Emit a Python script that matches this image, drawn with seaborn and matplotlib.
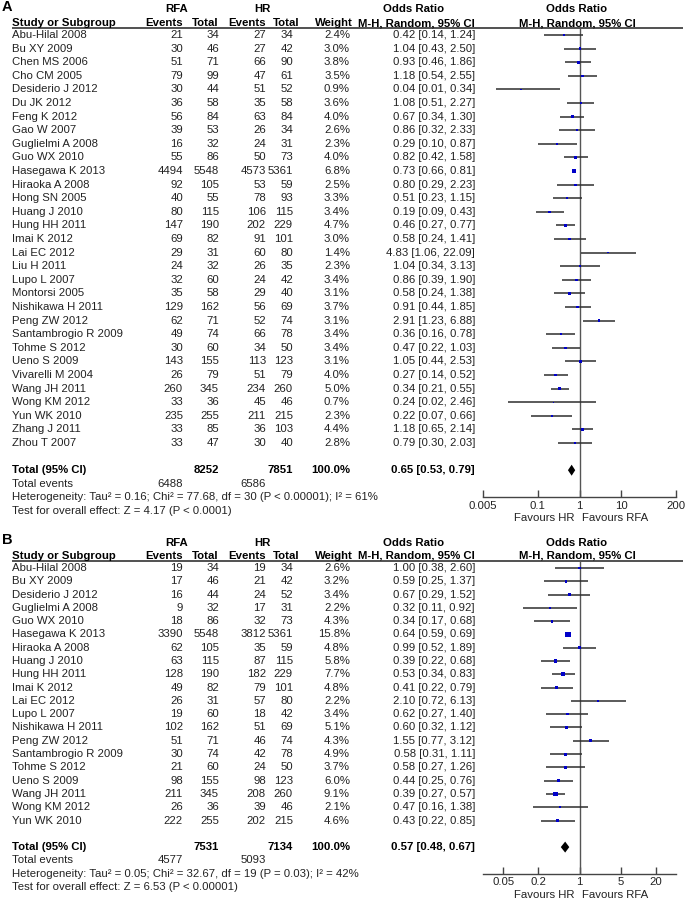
import numpy as np
import pandas as pd
import matplotlib
matplotlib.use('Agg')
import matplotlib.pyplot as plt
import seaborn as sns
from matplotlib.ticker import NullLocator

# ---- panel A: local recurrence / all studies ----
names_a = ["Abu-Hilal 2008", "Bu XY 2009", "Chen MS 2006", "Cho CM 2005", "Desiderio J 2012",
           "Du JK 2012", "Feng K 2012", "Gao W 2007", "Guglielmi A 2008", "Guo WX 2010",
           "Hasegawa K 2013", "Hiraoka A 2008", "Hong SN 2005", "Huang J 2010", "Hung HH 2011",
           "Imai K 2012", "Lai EC 2012", "Liu H 2011", "Lupo L 2007", "Montorsi 2005",
           "Nishikawa H 2011", "Peng ZW 2012", "Santambrogio R 2009", "Tohme S 2012", "Ueno S 2009",
           "Vivarelli M 2004", "Wang JH 2011", "Wong KM 2012", "Yun WK 2010", "Zhang J 2011",
           "Zhou T 2007"]
rfa_ev_a = [21, 30, 51, 79, 30, 36, 56, 39, 16, 55, 4494, 92, 40, 80, 147, 69, 29, 24, 32, 35,
            129, 62, 49, 30, 143, 26, 260, 33, 235, 33, 33]
rfa_tot_a = [34, 46, 71, 99, 44, 58, 84, 53, 32, 86, 5548, 105, 55, 115, 190, 82, 31, 32, 60, 58,
             162, 71, 74, 60, 155, 79, 345, 36, 255, 85, 47]
hr_ev_a = [27, 27, 66, 47, 51, 35, 63, 26, 24, 50, 4573, 53, 78, 106, 202, 91, 60, 26, 24, 29,
           56, 52, 66, 34, 113, 51, 234, 45, 211, 36, 30]
hr_tot_a = [34, 42, 90, 61, 52, 58, 84, 34, 31, 73, 5361, 59, 93, 115, 229, 101, 80, 35, 42, 40,
            69, 74, 78, 50, 123, 79, 260, 46, 215, 103, 40]
weight_a = [2.4, 3.0, 3.8, 3.5, 0.9, 3.6, 4.0, 2.6, 2.3, 4.0, 6.8, 2.5, 3.3, 3.4, 4.7, 3.0, 1.4,
            2.3, 3.4, 3.1, 3.7, 3.1, 3.4, 3.4, 3.1, 4.0, 5.0, 0.7, 2.3, 4.4, 2.8]
or_a = [0.42, 1.04, 0.93, 1.18, 0.04, 1.08, 0.67, 0.86, 0.29, 0.82, 0.73, 0.80, 0.51, 0.19, 0.46,
        0.58, 4.83, 1.04, 0.86, 0.58, 0.91, 2.91, 0.36, 0.47, 1.05, 0.27, 0.34, 0.24, 0.22, 1.18, 0.79]
lo_a = [0.14, 0.43, 0.46, 0.54, 0.01, 0.51, 0.34, 0.32, 0.10, 0.42, 0.66, 0.29, 0.23, 0.09, 0.27,
        0.24, 1.06, 0.34, 0.39, 0.24, 0.44, 1.23, 0.16, 0.22, 0.44, 0.14, 0.21, 0.02, 0.07, 0.65, 0.30]
hi_a = [1.24, 2.50, 1.86, 2.55, 0.34, 2.27, 1.30, 2.33, 0.87, 1.58, 0.81, 2.23, 1.15, 0.43, 0.77,
        1.41, 22.09, 3.13, 1.90, 1.38, 1.85, 6.88, 0.78, 1.03, 2.53, 0.52, 0.55, 2.46, 0.66, 2.14, 2.03]
total_a = {'rfa_tot': 8252, 'hr_tot': 7851, 'rfa_ev': 6488, 'hr_ev': 6586,
           'or': 0.65, 'lo': 0.53, 'hi': 0.79}
het_a = "Heterogeneity: Tau\u00b2 = 0.16; Chi\u00b2 = 77.68, df = 30 (P < 0.00001); I\u00b2 = 61%"
test_a = "Test for overall effect: Z = 4.17 (P < 0.0001)"
ticks_a = [0.005, 0.1, 1, 10, 200]
tick_labels_a = ['0.005', '0.1', '1', '10', '200']

# ---- panel B ----
names_b = ["Abu-Hilal 2008", "Bu XY 2009", "Desiderio J 2012", "Guglielmi A 2008", "Guo WX 2010",
           "Hasegawa K 2013", "Hiraoka A 2008", "Huang J 2010", "Hung HH 2011", "Imai K 2012",
           "Lai EC 2012", "Lupo L 2007", "Nishikawa H 2011", "Peng ZW 2012", "Santambrogio R 2009",
           "Tohme S 2012", "Ueno S 2009", "Wang JH 2011", "Wong KM 2012", "Yun WK 2010"]
rfa_ev_b = [19, 17, 16, 9, 18, 3390, 62, 63, 128, 49, 26, 19, 102, 51, 30, 21, 98, 211, 26, 222]
rfa_tot_b = [34, 46, 44, 32, 86, 5548, 105, 115, 190, 82, 31, 60, 162, 71, 74, 60, 155, 345, 36, 255]
hr_ev_b = [19, 21, 24, 17, 32, 3812, 35, 87, 182, 79, 57, 18, 51, 46, 42, 24, 98, 208, 39, 202]
hr_tot_b = [34, 42, 52, 31, 73, 5361, 59, 115, 229, 101, 80, 42, 69, 74, 78, 50, 123, 260, 46, 215]
weight_b = [2.6, 3.2, 3.4, 2.2, 4.3, 15.8, 4.8, 5.8, 7.7, 4.8, 2.2, 3.4, 5.1, 4.3, 4.9, 3.7, 6.0,
            9.1, 2.1, 4.6]
or_b = [1.00, 0.59, 0.67, 0.32, 0.34, 0.64, 0.99, 0.39, 0.53, 0.41, 2.10, 0.62, 0.60, 1.55, 0.58,
        0.58, 0.44, 0.39, 0.47, 0.43]
lo_b = [0.38, 0.25, 0.29, 0.11, 0.17, 0.59, 0.52, 0.22, 0.34, 0.22, 0.72, 0.27, 0.32, 0.77, 0.31,
        0.27, 0.25, 0.27, 0.16, 0.22]
hi_b = [2.60, 1.37, 1.52, 0.92, 0.68, 0.69, 1.89, 0.68, 0.83, 0.79, 6.13, 1.40, 1.12, 3.12, 1.11,
        1.26, 0.76, 0.57, 1.38, 0.85]
total_b = {'rfa_tot': 7531, 'hr_tot': 7134, 'rfa_ev': 4577, 'hr_ev': 5093,
           'or': 0.57, 'lo': 0.48, 'hi': 0.67}
het_b = "Heterogeneity: Tau\u00b2 = 0.05; Chi\u00b2 = 32.67, df = 19 (P = 0.03); I\u00b2 = 42%"
test_b = "Test for overall effect: Z = 6.53 (P < 0.00001)"
ticks_b = [0.05, 0.2, 1, 5, 20]
tick_labels_b = ['0.05', '0.2', '1', '5', '20']

sns.set_style('white')
plt.rcParams['font.family'] = ['Liberation Sans', 'DejaVu Sans']

W, H = 685, 901
FS = 8.2
TXT = '#222222'
LINE = '#2e2e2e'


def txt(ax, x, y, s, ha='left', bold=False, size=FS, va='center'):
    ax.text(x, y, s, ha=ha, va=va, fontsize=size, color='black' if bold else TXT,
            fontweight='bold' if bold else 'normal')


def draw_panel(fig, bg, label, row0, dy, names, rfa_ev, rfa_tot, hr_ev, hr_tot, weight,
               odds, lo, hi, total, het, test, ticks, tick_labels, xlim):
    n = len(names)
    ys = row0 + dy * np.arange(n)
    h1, h2, rule = row0 - 25.5, row0 - 12, row0 - 7
    y_tot = row0 + dy * (n + 1)
    y_ev, y_het, y_test = y_tot + dy, y_tot + 2 * dy, y_tot + 3 * dy

    # headers
    txt(bg, 2, h1 + 1.5, label, bold=True, size=10.5, va='baseline')
    txt(bg, 177, h1, 'RFA', ha='center', bold=True)
    txt(bg, 262, h1, 'HR', ha='center', bold=True)
    txt(bg, 414, h1, 'Odds Ratio', ha='center', bold=True)
    txt(bg, 577, h1, 'Odds Ratio', ha='center', bold=True)
    txt(bg, 12, h2, 'Study or Subgroup', bold=True)
    txt(bg, 183, h2, 'Events', ha='right', bold=True)
    txt(bg, 219, h2, 'Total', ha='right', bold=True)
    txt(bg, 266, h2, 'Events', ha='right', bold=True)
    txt(bg, 300, h2, 'Total', ha='right', bold=True)
    txt(bg, 353, h2, 'Weight', ha='right', bold=True)
    txt(bg, 475, h2, 'M-H, Random, 95% CI', ha='right', bold=True)
    txt(bg, 577, h2, 'M-H, Random, 95% CI', ha='center', bold=True)
    bg.hlines(rule, 12, 683, color='#333333', lw=1.2)

    # study rows
    for i in range(n):
        y = ys[i]
        txt(bg, 12, y, names[i])
        txt(bg, 183, y, str(rfa_ev[i]), ha='right')
        txt(bg, 219, y, str(rfa_tot[i]), ha='right')
        txt(bg, 266, y, str(hr_ev[i]), ha='right')
        txt(bg, 293, y, str(hr_tot[i]), ha='right')
        txt(bg, 350, y, f"{weight[i]:.1f}%", ha='right')
        txt(bg, 475, y, f"{odds[i]:.2f} [{lo[i]:.2f}, {hi[i]:.2f}]", ha='right')

    # totals
    txt(bg, 12, y_tot, 'Total (95% CI)', bold=True)
    txt(bg, 219, y_tot, str(total['rfa_tot']), ha='right', bold=True)
    txt(bg, 293, y_tot, str(total['hr_tot']), ha='right', bold=True)
    txt(bg, 350, y_tot, '100.0%', ha='right', bold=True)
    txt(bg, 475, y_tot, f"{total['or']:.2f} [{total['lo']:.2f}, {total['hi']:.2f}]",
        ha='right', bold=True)
    txt(bg, 12, y_ev, 'Total events')
    txt(bg, 183, y_ev, str(total['rfa_ev']), ha='right')
    txt(bg, 266, y_ev, str(total['hr_ev']), ha='right')
    txt(bg, 12, y_het, het)
    txt(bg, 12, y_test, test)

    # forest axes, y in figure pixels
    ax = fig.add_axes([483 / W, 1 - y_het / H, (676 - 483) / W, (y_het - rule) / H])
    ax.set_facecolor('none')
    ax.set_xscale('log')
    ax.axvline(1, color='#555555', lw=1, zorder=1)
    ax.hlines(ys, lo, hi, color=LINE, lw=1.1, zorder=2)
    df = pd.DataFrame({'or': odds, 'y': ys, 'weight': weight})
    sns.scatterplot(data=df, x='or', y='y', size='weight', sizes=(0, 16), size_norm=(0, 16),
                    marker='s', color='#0000c8', linewidth=0, legend=False, zorder=3, ax=ax)
    d = 5.5
    ax.fill([total['lo'], total['or'], total['hi'], total['or']],
            [y_tot, y_tot - d, y_tot, y_tot + d], color='black', lw=0, zorder=3)
    ax.set_xlim(*xlim)
    ax.set_ylim(y_het, rule)
    ax.set_xlabel('')
    ax.set_ylabel('')
    ax.set_yticks([])
    ax.set_xticks(ticks)
    ax.set_xticklabels(tick_labels)
    ax.xaxis.set_minor_locator(NullLocator())
    ax.tick_params(axis='x', direction='in', length=5, width=1, color='#444444',
                   labelsize=FS, labelcolor=TXT, pad=2.5, bottom=True)
    for side in ['top', 'left', 'right']:
        ax.spines[side].set_visible(False)
    ax.spines['bottom'].set_color('#444444')
    ax.spines['bottom'].set_linewidth(1)
    ax.annotate('Favours HR', xy=(1, y_het + 21), xytext=(-5, 0), textcoords='offset pixels',
                ha='right', va='center', fontsize=FS, color=TXT, annotation_clip=False)
    ax.annotate('Favours RFA', xy=(1, y_het + 21), xytext=(2, 0), textcoords='offset pixels',
                ha='left', va='center', fontsize=FS, color=TXT, annotation_clip=False)


fig = plt.figure(figsize=(W / 100, H / 100), dpi=100)
bg = fig.add_axes([0, 0, 1, 1])
bg.set_xlim(0, W)
bg.set_ylim(H, 0)
bg.axis('off')

draw_panel(fig, bg, 'A', 35, 13.6, names_a, rfa_ev_a, rfa_tot_a, hr_ev_a, hr_tot_a, weight_a,
           or_a, lo_a, hi_a, total_a, het_a, test_a, ticks_a, tick_labels_a, (0.005, 200))
draw_panel(fig, bg, 'B', 568, 13.29, names_b, rfa_ev_b, rfa_tot_b, hr_ev_b, hr_tot_b, weight_b,
           or_b, lo_b, hi_b, total_b, het_b, test_b, ticks_b, tick_labels_b, (1 / 44, 44))

fig.savefig('out.png', dpi=100)
